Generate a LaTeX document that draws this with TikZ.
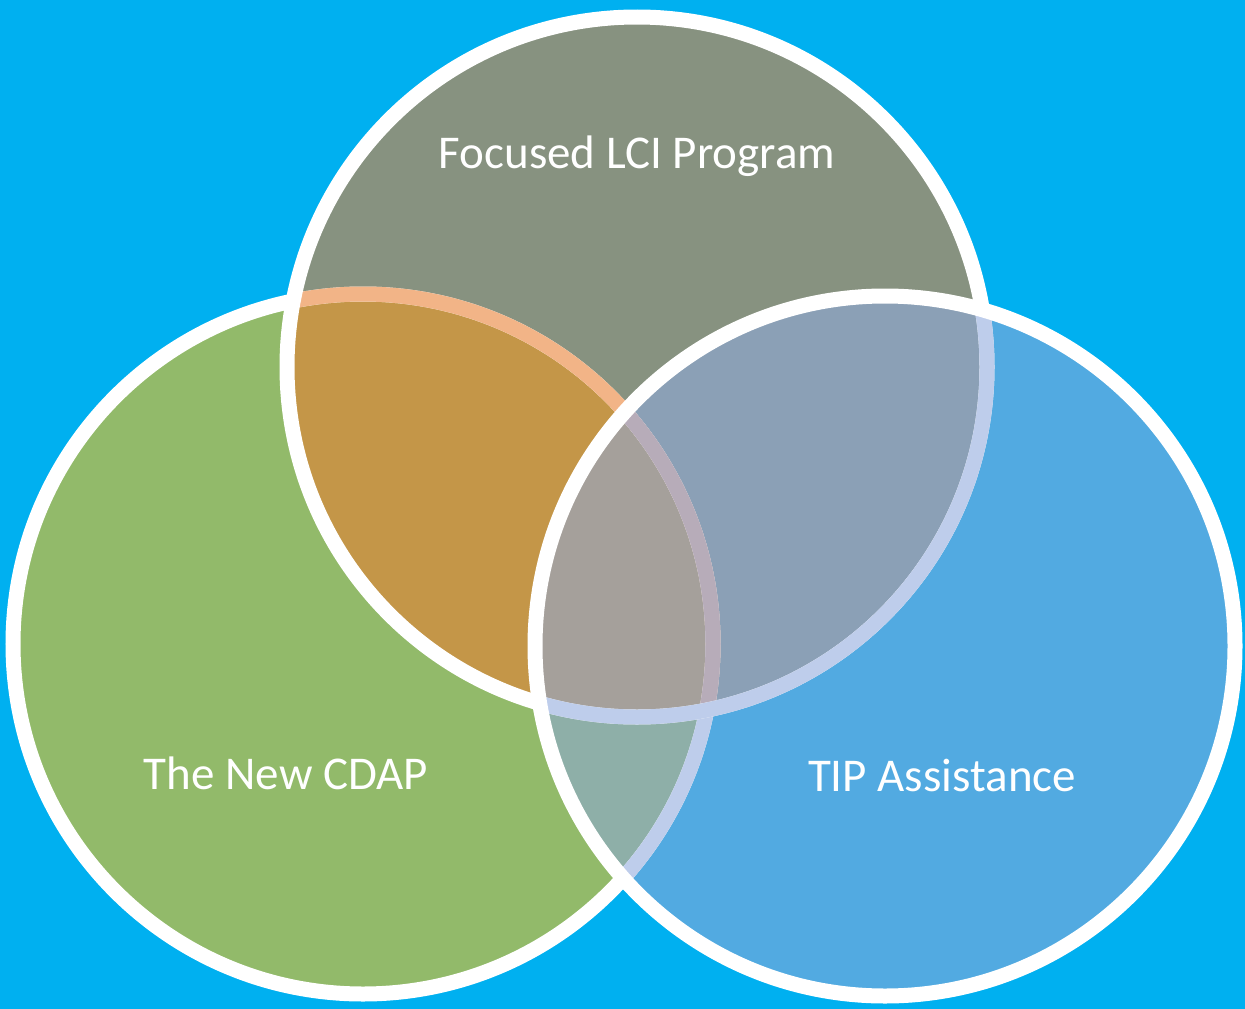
\documentclass[tikz,border=0pt]{standalone}
\usepackage{fontspec}
\setmainfont{Carlito}
\definecolor{backcyan}{RGB}{0,176,240}
\definecolor{lcigray}{RGB}{135,146,128}
\definecolor{cdapgreen}{RGB}{146,186,106}
\definecolor{tipblue}{RGB}{82,170,225}
\definecolor{lcicdap}{RGB}{196,150,72}
\definecolor{lcitip}{RGB}{139,160,182}
\definecolor{cdaptip}{RGB}{142,175,168}
\definecolor{allthree}{RGB}{165,160,155}
\definecolor{rimpeach}{RGB}{242,180,135}
\definecolor{rimmauve}{RGB}{183,172,185}
\definecolor{rimblue}{RGB}{190,205,235}
\newcommand{\circr}{350pt}
\tikzset{
    disc/.style={radius=\circr},
    rim/.style={draw=white, line width=15pt},
    title/.style={anchor=base, text=white, font=\fontsize{47}{56}\selectfont}
}

\begin{document}
\begin{tikzpicture}[x=1pt, y=-1pt]
    \fill[backcyan] (0,0) rectangle (1245,1009);
    \useasboundingbox (0,0) rectangle (1245,1009);

    \coordinate (lci) at (637,367);
    \coordinate (cdap) at (363,644);
    \coordinate (tip) at (885,646);

    % plain discs
    \fill[cdapgreen] (cdap) circle[disc];
    \fill[lcigray] (lci) circle[disc];
    \fill[tipblue] (tip) circle[disc];

    % overlaps
    \begin{scope}
        \clip (lci) circle[disc];
        \fill[lcitip] (tip) circle[disc];
    \end{scope}
    \begin{scope}
        \clip (cdap) circle[disc];
        \fill[lcicdap] (lci) circle[disc];
        \fill[cdaptip] (tip) circle[disc];
        \clip (lci) circle[disc];
        \fill[allthree] (tip) circle[disc];
    \end{scope}

    % rims, bottom to top
    \draw[rim] (cdap) circle[disc];
    \begin{scope}
        \clip (lci) circle[disc];
        \draw[rim, draw=rimpeach] (cdap) circle[disc];
    \end{scope}
    \begin{scope}
        \clip (tip) circle[disc];
        \draw[rim, draw=rimblue] (cdap) circle[disc];
        \clip (lci) circle[disc];
        \draw[rim, draw=rimmauve] (cdap) circle[disc];
    \end{scope}
    \draw[rim] (lci) circle[disc];
    \begin{scope}
        \clip (tip) circle[disc];
        \draw[rim, draw=rimblue] (lci) circle[disc];
    \end{scope}
    \draw[rim] (tip) circle[disc];

    \node[title] (lcitext) at (637,168) {Focused LCI Program};
    \node[title] (cdaptext) at (286,789) {The New CDAP};
    \node[title] (tiptext) at (942,791) {TIP Assistance};
\end{tikzpicture}
\end{document}
